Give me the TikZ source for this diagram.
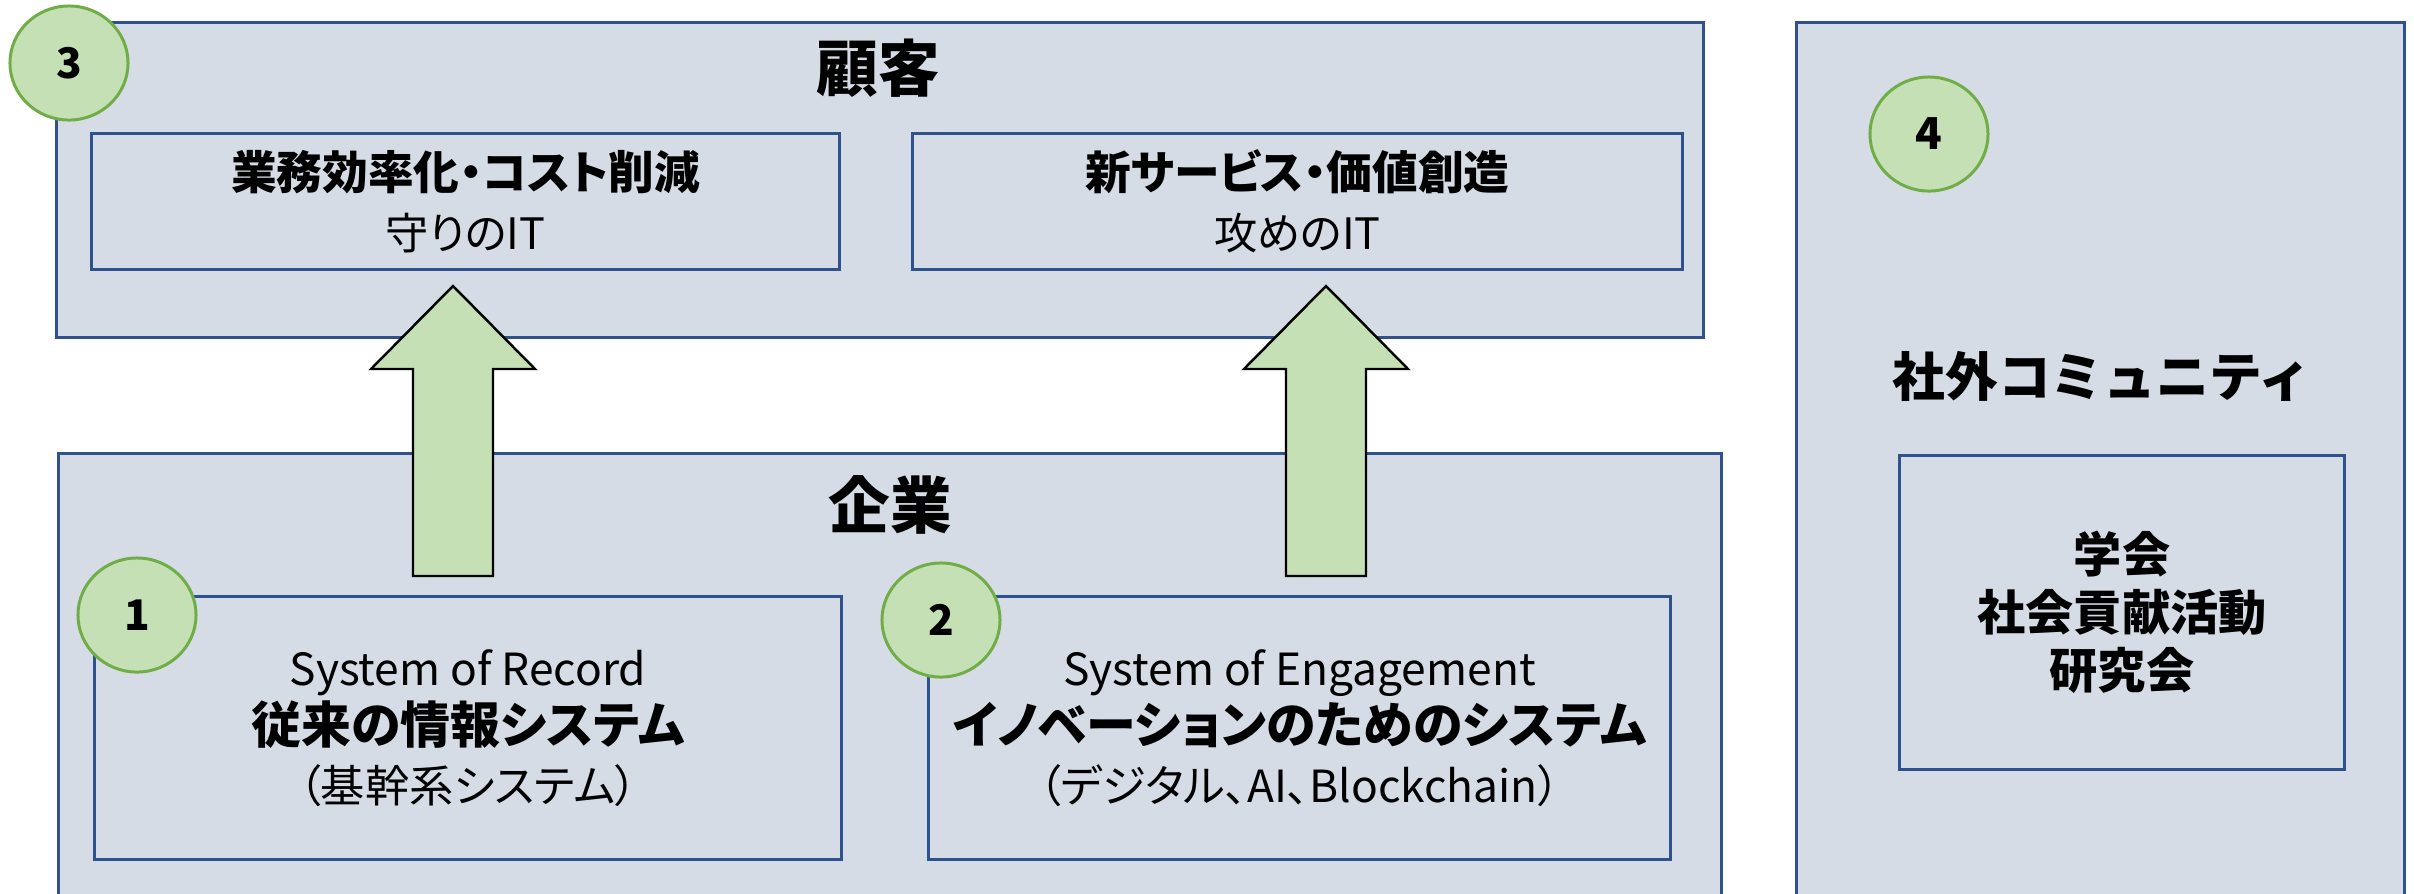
\documentclass[tikz,border=0pt]{standalone}
\usepackage{fontspec}
\setmainfont{Noto Sans CJK JP}[RawFeature=+palt]
\newfontfamily\gothicfix{Noto Sans CJK JP}
\usetikzlibrary{shapes.geometric}

\definecolor{boxfill}{HTML}{D6DCE5}
\definecolor{boxline}{HTML}{2F528F}
\definecolor{leaf}{HTML}{C5E0B4}
\definecolor{leafline}{HTML}{70AD47}

\tikzset{
  outerbox/.style={draw=boxline, fill=boxfill, line width=0.85pt, inner sep=0pt},
  innerbox/.style={outerbox, align=center},
  numcircle/.style={ellipse, draw=leafline, fill=leaf, line width=0.85pt,
    minimum width=1.18cm, minimum height=1.14cm, inner sep=0pt,
    font=\bfseries\fontsize{12}{14}\selectfont},
  titletext/.style={font=\bfseries\fontsize{17.5}{20}\selectfont},
  uparrow/.style={draw=black, fill=leaf, line width=0.7pt, line join=miter}
}

\begin{document}
\begin{tikzpicture}[x=0.01cm, y=-0.01cm]
    \useasboundingbox (0,0) rectangle (2414,893);
    % draw outer boxes
    \node[outerbox, minimum width=16.46cm, minimum height=3.14cm] (cust) at (880,180) {};
    \node[outerbox, minimum width=16.62cm, minimum height=4.66cm] (corp) at (890,687) {};
    \node[outerbox, minimum width=6.07cm, minimum height=8.97cm] (comm) at (2100.5,471.5) {};
    % draw inner boxes
    \node[innerbox, minimum width=7.47cm, minimum height=1.35cm,
      font=\fontsize{12.3}{17}\selectfont] (cost) at (465.5,201.5)
      {{\bfseries\fontsize{13}{17}\selectfont 業務効率化・コスト削減}\\守りのIT};
    \node[innerbox, minimum width=7.69cm, minimum height=1.35cm,
      font=\fontsize{12.3}{17}\selectfont] (value) at (1297.5,201.5)
      {{\bfseries\fontsize{13}{17}\selectfont 新サービス・価値創造}\\攻めのIT};
    \node[innerbox, minimum width=7.46cm, minimum height=2.62cm,
      font=\fontsize{12.6}{16.7}\selectfont] (sor) at (468,728)
      {System of Record\\{\bfseries\fontsize{14.2}{16.7}\selectfont 従来の情報システム}\\（基幹系システム）};
    \node[innerbox, minimum width=7.41cm, minimum height=2.62cm,
      font=\fontsize{12.6}{16.7}\selectfont] (soe) at (1299.5,728)
      {System of Engagement\\{\bfseries\fontsize{14.2}{16.7}\selectfont イノベーションのためのシステム}\\（デジタル、AI、Blockchain）};
    \node[innerbox, minimum width=4.44cm, minimum height=3.13cm,
      font=\gothicfix\bfseries\fontsize{13.7}{16.5}\selectfont] (acad) at (2122,612.5)
      {学会\\社会貢献活動\\研究会};
    % draw block arrows
    \foreach \x in {453, 1326}
        \draw[uparrow] (\x,286) -- (\x+82,369) -- (\x+40,369) -- (\x+40,576)
        -- (\x-40,576) -- (\x-40,369) -- (\x-82,369) -- cycle;
    % draw numbers
    \node[numcircle] (n3) at (69,63) {3};
    \node[numcircle] (n1) at (137,615) {1};
    \node[numcircle] (n2) at (941,620) {2};
    \node[numcircle, font=\gothicfix\bfseries\fontsize{12.5}{14}\selectfont] (n4) at (1929,134) {4};
    % draw titles
    \node[titletext] (custtitle) at (878,68) {顧客};
    \node[titletext] (corptitle) at (890,505) {企業};
    \node[font=\gothicfix\bfseries\fontsize{15}{18}\selectfont] (commtitle) at (2102,376) {社外コミュニティ};
\end{tikzpicture}
\end{document}
